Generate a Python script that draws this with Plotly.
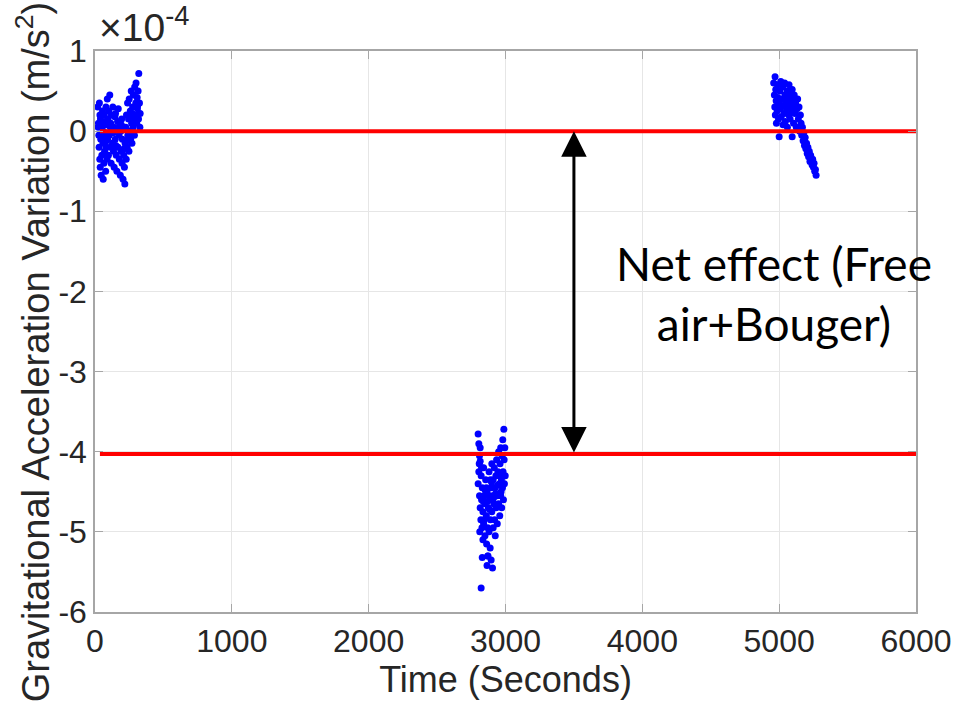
import plotly.graph_objects as go

# Cluster 1 (start, ~0-330 s)
t1 = [20,25,28,30,32,35,38,40,42,45,48,50,55,58,60,62,65,68,70,72,75,78,80,82,85,88,90,92,95,98,
      100,105,108,110,115,118,120,125,128,130,135,138,140,145,148,150,155,158,160,165,168,170,175,178,
      180,185,188,190,195,198,200,205,208,210,215,218,220,
      225,228,230,235,238,240,245,248,250,255,258,260,265,268,270,275,278,280,285,288,290,295,298,300,
      305,308,310,315,318,320,325,328,330,
      22,36,52,66,84,112,132,152,172,192,212,232,252,272,292,312]
v1 = [0.30,0.10,-0.05,-0.20,0.35,-0.35,-0.45,0.15,-0.10,-0.55,0.05,-0.30,0.25,-0.15,-0.60,0.00,-0.40,0.20,-0.25,0.12,-0.05,-0.50,0.30,-0.20,0.08,-0.35,0.40,-0.10,0.15,-0.30,
      0.25,-0.05,0.45,-0.20,0.10,-0.40,0.20,0.00,-0.15,0.30,-0.25,0.05,-0.45,0.18,-0.10,0.22,-0.30,0.02,-0.50,0.12,-0.20,0.28,-0.05,-0.35,
      0.10,-0.55,0.00,-0.25,0.15,-0.40,-0.10,-0.60,0.05,-0.30,-0.45,-0.66,-0.15,
      0.05,-0.35,0.20,-0.20,0.35,-0.05,0.15,-0.25,0.40,0.00,0.25,-0.10,0.50,0.10,-0.15,0.30,0.05,0.45,0.15,-0.05,0.55,0.20,0.35,0.60,
      0.10,0.42,0.28,0.50,0.15,0.72,0.35,0.05,0.22,
      0.05,0.20,-0.08,0.10,-0.12,0.05,-0.02,-0.18,0.04,0.08,-0.22,-0.12,0.18,0.22,0.10,0.32]

# Cluster 2 (~2800-3000 s)
t2 = [2800,2805,2810,2805,2800,2810,2815,2820,2812,2808,2815,2822,2825,2830,2828,2835,2835,2840,2840,2845,
      2850,2850,2855,2860,2862,2865,2870,2872,2875,2880,2880,2885,2888,2890,2895,2895,2900,2900,2905,2905,
      2910,2910,2915,2918,2920,2925,2925,2930,2932,2935,2940,2940,2945,2950,2950,2955,2958,2960,2965,2965,
      2970,2972,2975,2978,2980,2982,2985,2988,2990,2992,2995,2998,2822,2830,2870,2865,2815,2825,2880,2890,
      2860,2845,2838,2852,2868,2884,2898,2912,2928,2942,2956,2968]
v2 = [-3.78,-3.90,-4.05,-4.25,-4.40,-4.55,-4.70,-4.85,-5.00,-4.15,-3.95,-4.30,-4.60,-4.45,-4.95,-4.75,-5.10,-4.20,-4.90,-4.55,
      -4.65,-5.05,-4.35,-4.80,-5.15,-4.50,-4.95,-5.30,-4.70,-4.25,-5.00,-4.60,-5.20,-4.85,-4.45,-5.35,-4.75,-4.15,-4.55,-5.45,
      -4.95,-4.35,-4.65,-4.20,-4.85,-4.45,-5.05,-4.30,-4.70,-4.10,-4.55,-4.90,-4.25,-4.65,-4.00,-4.40,-4.80,-4.15,-4.55,-3.95,
      -4.35,-4.70,-4.05,-4.45,-3.85,-4.25,-4.60,-3.72,-4.10,-4.40,-3.95,-4.30,-5.70,-5.32,-5.30,-5.42,-4.12,-4.20,-4.55,-4.35,
      -4.45,-4.85,-4.62,-4.48,-4.62,-4.72,-4.38,-4.58,-4.52,-4.42,-4.30,-4.50]

# Cluster 3 (~4960-5270 s)
t3 = [4960,4965,4968,4970,4972,4975,4978,4980,4985,4988,4990,4995,5000,5000,5005,5010,5012,5015,5020,5025,
      5028,5030,5035,5040,5042,5045,5050,5055,5058,5060,5065,5070,5072,5075,5080,5085,5090,5095,5095,5100,
      5105,5108,5110,5115,5120,5125,5130,5135,5140,5145,5150,5155,5160,5165,5170,5175,5180,5185,5190,5195,
      5200,5205,5210,5215,5220,5225,5230,5240,5245,5250,5255,5260,5265,5270]
v3 = [0.60,0.45,0.30,0.68,0.20,0.52,0.38,0.10,0.25,0.58,0.42,0.15,-0.07,0.35,0.50,0.28,0.62,0.18,0.40,0.55,
      0.08,0.32,0.22,0.60,0.45,0.12,0.35,0.28,0.50,0.05,0.40,0.20,0.58,0.33,0.15,0.45,0.25,-0.07,0.52,0.38,
      0.10,0.30,0.45,0.22,0.35,0.05,0.28,0.40,0.15,0.30,0.00,0.20,0.10,-0.05,0.05,-0.12,-0.02,-0.18,-0.08,-0.22,
      -0.15,-0.28,-0.20,-0.32,-0.25,-0.38,-0.30,-0.42,-0.35,-0.45,-0.40,-0.50,-0.48,-0.55]

# Reference levels (x1e-4 m/s^2)
levels = [0.0, -4.03]
level_span = [36, 6045]
arrow_time = 3500
label_pos = (4960, -2.03)
x_ticks = [0, 1000, 2000, 3000, 4000, 5000, 6000]
y_ticks = [1, 0, -1, -2, -3, -4, -5, -6]

fig = go.Figure()
for tt, vv in [(t1, v1), (t2, v2), (t3, v3)]:
    fig.add_trace(go.Scatter(x=tt, y=vv, mode="markers",
                             marker=dict(color="#0000ff", size=7, line=dict(width=0)),
                             showlegend=False, hoverinfo="skip"))
for lv in levels:
    fig.add_trace(go.Scatter(x=level_span, y=[lv, lv], mode="lines",
                             line=dict(color="#ff0000", width=4),
                             showlegend=False, hoverinfo="skip"))

fig.add_annotation(x=arrow_time, y=levels[0], ax=arrow_time, ay=levels[1],
                   xref="x", yref="y", axref="x", ayref="y", text="",
                   showarrow=True, arrowhead=2, arrowside="end+start",
                   arrowsize=1.7, arrowwidth=3, arrowcolor="black")
fig.add_annotation(x=label_pos[0], y=label_pos[1], xref="x", yref="y",
                   text="Net effect (Free<br>air+Bouger)", showarrow=False,
                   font=dict(family="Lato", size=46, color="black"), align="center")
fig.add_annotation(x=0.003, y=1.0, xref="paper", yref="paper", xanchor="left", yanchor="bottom",
                   text="×10<sup>-4</sup>", showarrow=False,
                   font=dict(family="Liberation Sans", size=39, color="#262626"))
fig.add_annotation(x=-0.0755, y=0.463, xref="paper", yref="paper", xanchor="center", yanchor="middle",
                   textangle=-90, showarrow=False,
                   text="Gravitational Acceleration Variation (m/s<sup>2</sup>)",
                   font=dict(family="Liberation Sans", size=38, color="#262626"))

axis_common = dict(showline=True, linecolor="#a6a6a6", linewidth=1.5, mirror="ticks",
                   ticks="inside", ticklen=8, tickcolor="#a6a6a6",
                   showgrid=True, gridcolor="#e6e6e6", gridwidth=1, zeroline=False,
                   tickfont=dict(family="Liberation Sans", size=32, color="#262626"))

fig.update_xaxes(range=[0, 6000], tickvals=x_ticks, ticktext=[str(v) for v in x_ticks],
                 title=dict(text="Time (Seconds)", font=dict(family="Liberation Sans", size=36, color="#262626"), standoff=8),
                 **axis_common)
fig.update_yaxes(range=[-6, 1], tickvals=y_ticks, ticktext=[str(v) for v in y_ticks],
                 **axis_common)

fig.update_layout(width=958, height=709, margin=dict(l=95, r=42, t=51, b=97, autoexpand=False),
                  plot_bgcolor="white", paper_bgcolor="white")
fig.write_html("out.html")
